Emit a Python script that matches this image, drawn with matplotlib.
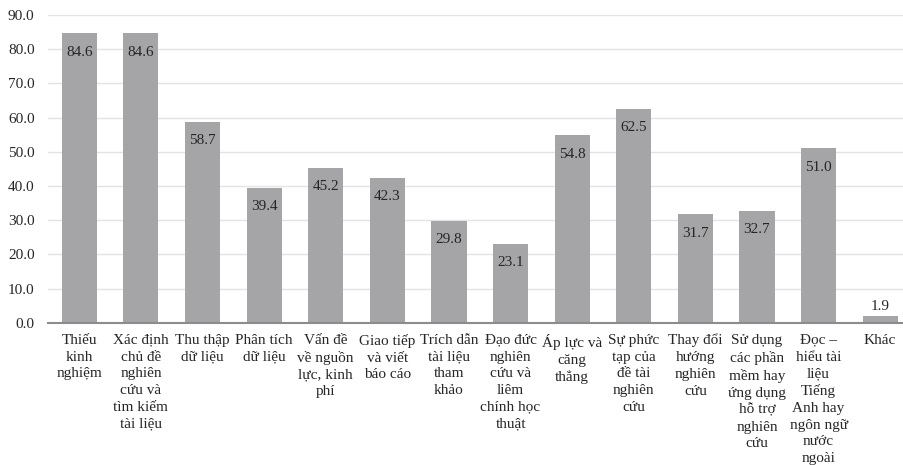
import matplotlib
matplotlib.use("Agg")
import matplotlib.pyplot as plt
import numpy as np

categories = [
    "Thiếu\nkinh\nnghiệm",
    "Xác định\nchủ đề\nnghiên\ncứu và\ntìm kiếm\ntài liệu",
    "Thu thập\ndữ liệu",
    "Phân tích\ndữ liệu",
    "Vấn đề\nvề nguồn\nlực, kinh\nphí",
    "Giao tiếp\nvà viết\nbáo cáo",
    "Trích dẫn\ntài liệu\ntham\nkhảo",
    "Đạo đức\nnghiên\ncứu và\nliêm\nchính học\nthuật",
    "Áp lực và\ncăng\nthẳng",
    "Sự phức\ntạp của\nđề tài\nnghiên\ncứu",
    "Thay đổi\nhướng\nnghiên\ncứu",
    "Sử dụng\ncác phần\nmềm hay\nứng dụng\nhỗ trợ\nnghiên\ncứu",
    "Đọc –\nhiểu tài\nliệu\nTiếng\nAnh hay\nngôn ngữ\nnước\nngoài",
    "Khác",
]
values = [84.6, 84.6, 58.7, 39.4, 45.2, 42.3, 29.8, 23.1, 54.8, 62.5, 31.7, 32.7, 51.0, 1.9]
yticks = [0, 10, 20, 30, 40, 50, 60, 70, 80, 90]

plt.rcParams["font.family"] = ["Liberation Serif", "DejaVu Serif"]

FS = 11
W, H = 904, 465
fig = plt.figure(figsize=(W / 100, H / 100), dpi=100)
left, right, top, bottom = 48.5, 911.0, 15.0, 322.7
ax = fig.add_axes([left / W, 1 - bottom / H, (right - left) / W, (bottom - top) / H])

x = np.arange(len(categories))
ax.bar(x, values, width=0.57, color="#a5a5a7", zorder=2)

ax.set_xlim(-0.5, len(categories) - 0.5)
ax.set_ylim(0, 90)
ax.set_yticks(yticks)
ax.set_yticklabels([f"{v:.1f}" for v in yticks], fontsize=FS, color="#262626")
ax.tick_params(axis="y", length=0, pad=10)
ax.set_xticks(x)
ax.set_xticklabels(categories, fontsize=FS, color="#262626", linespacing=1.37,
                   va="top")
ax.tick_params(axis="x", length=0, pad=8)

ax.grid(axis="y", color="#e3e3e3", linewidth=1.0, zorder=0)
for s in ["top", "right", "left"]:
    ax.spines[s].set_visible(False)
ax.spines["bottom"].set_color("#8c8c8c")
ax.spines["bottom"].set_linewidth(1.5)
ax.spines["bottom"].set_zorder(3)

for xi, v in zip(x, values):
    dy = -13.5 if v > 10 else 7
    ax.annotate(f"{v:.1f}", (xi, v), xytext=(0, dy), textcoords="offset points",
                ha="center", va="center", fontsize=FS, color="#262626")

fig.savefig("out.png", dpi=100)
